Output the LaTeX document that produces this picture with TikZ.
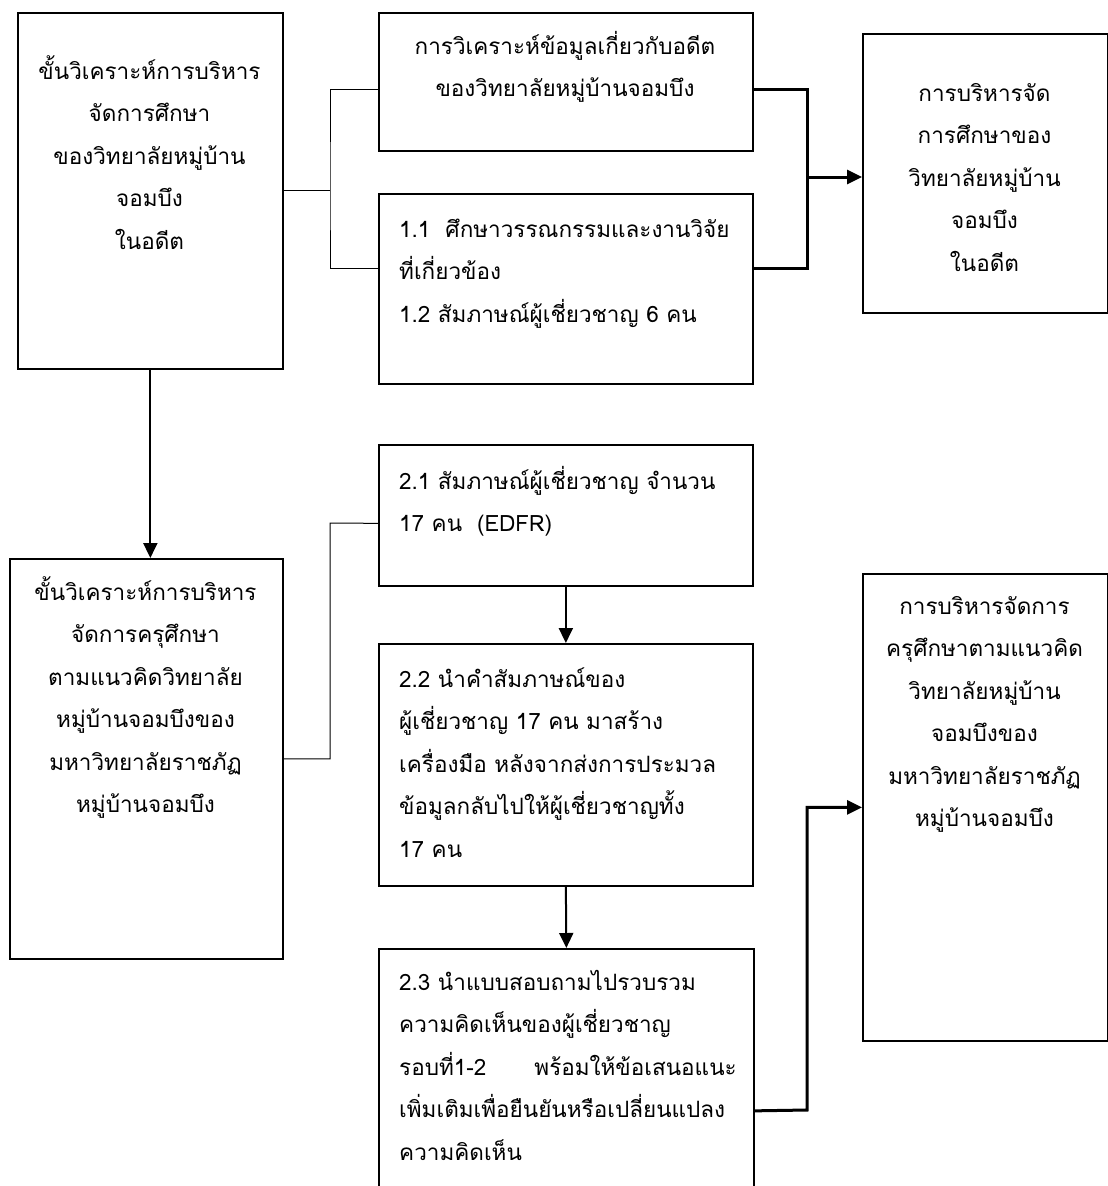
\documentclass[tikz,border=0pt]{standalone}
\usepackage{fontspec}
\newfontfamily\thaifont[Script=Thai]{Loma}
\usetikzlibrary{arrows.meta,positioning,calc}

\begin{document}
\begin{tikzpicture}[x=1pt, y=-1pt, >={Triangle[length=15pt,width=14pt]}, font=\thaifont\fontsize{22.5}{42.5}\selectfont]
	\tikzstyle{stagebox}=[draw=black, line width=1.7pt, rectangle, inner sep=0pt, anchor=north west]
	\tikzstyle{txtc}=[inner sep=0pt, align=center, anchor=base]
	\tikzstyle{txtl}=[inner sep=0pt, align=left, anchor=base west, text width=345pt]
	\tikzstyle{thinlink}=[line width=1pt]
	\tikzstyle{thicklink}=[line width=3pt]
	\tikzstyle{arrowlink}=[->, line width=2pt]

	\clip (0,0) rectangle (1108,1186);
	\fill[white] (0,0) rectangle (1108,1186);

	\node[stagebox, minimum width=265pt, minimum height=356pt] (A) at (17,12) {};
	\node[stagebox, minimum width=374pt, minimum height=138pt] (B) at (378,12) {};
	\node[stagebox, minimum width=374pt, minimum height=190pt] (C) at (378,193) {};
	\node[stagebox, minimum width=245pt, minimum height=279pt] (D) at (862,33) {};
	\node[stagebox, minimum width=273pt, minimum height=400pt] (E) at (9,558) {};
	\node[stagebox, minimum width=374pt, minimum height=141pt] (F) at (378,444) {};
	\node[stagebox, minimum width=374pt, minimum height=242pt] (G) at (378,643) {};
	\node[stagebox, minimum width=375pt, minimum height=324pt] (H) at (378,948) {};
	\node[stagebox, minimum width=245pt, minimum height=467pt] (R) at (862,573) {};

	\node[txtc, text width=265pt] (A-t) at (149.5,79) {ขั้นวิเคราะห์การบริหาร\\จัดการศึกษา\\ของวิทยาลัยหมู่บ้าน\\จอมบึง\\ในอดีต};
	\node[txtc, text width=374pt] (B-t) at (565,54) {การวิเคราะห์ข้อมูลเกี่ยวกับอดีต\\ของวิทยาลัยหมู่บ้านจอมบึง};
	\node[txtl] (C-t) at (399,237) {1.1\ \ ศึกษาวรรณกรรมและงานวิจัย\\ที่เกี่ยวข้อง\\1.2 สัมภาษณ์ผู้เชี่ยวชาญ 6 คน};
	\node[txtc, text width=245pt] (D-t) at (984.5,101) {การบริหารจัด\\การศึกษาของ\\วิทยาลัยหมู่บ้าน\\จอมบึง\\ในอดีต};
	\node[txtc, text width=273pt] (E-t) at (145.5,600) {ขั้นวิเคราะห์การบริหาร\\จัดการครุศึกษา\\ตามแนวคิดวิทยาลัย\\หมู่บ้านจอมบึงของ\\มหาวิทยาลัยราชภัฏ\\หมู่บ้านจอมบึง};
	\node[txtl] (F-t) at (399,489) {2.1 สัมภาษณ์ผู้เชี่ยวชาญ จำนวน\\17 คน\ \ (EDFR)};
	\node[txtl] (G-t) at (399,687) {2.2 นำคำสัมภาษณ์ของ\\ผู้เชี่ยวชาญ 17 คน มาสร้าง\\เครื่องมือ หลังจากส่งการประมวล\\ข้อมูลกลับไปให้ผู้เชี่ยวชาญทั้ง\\17 คน};
	\node[txtl] (H-t) at (399,990) {2.3 นำแบบสอบถามไปรวบรวม\\ความคิดเห็นของผู้เชี่ยวชาญ\\รอบที่1-2\hspace{48pt}พร้อมให้ข้อเสนอแนะ\\เพิ่มเติมเพื่อยืนยันหรือเปลี่ยนแปลง\\ความคิดเห็น};
	\node[txtc, text width=245pt] (R-t) at (984.5,614) {การบริหารจัดการ\\ครุศึกษาตามแนวคิด\\วิทยาลัยหมู่บ้าน\\จอมบึงของ\\มหาวิทยาลัยราชภัฏ\\หมู่บ้านจอมบึง};

	\coordinate (ja) at (330,193);
	\coordinate (jb) at (807,177);
	\coordinate (jc) at (330,523);
	\coordinate (jd) at (807,1110);

	\draw[thinlink] (A.east) -- (A.east -| ja);
	\draw[thinlink] ([yshift=-8pt]B.west) -| (ja) |- ([yshift=20pt]C.west);
	\draw[thicklink] ([yshift=-8pt]B.east) -| (jb) |- ([yshift=20pt]C.east);
	\draw[thicklink, ->] (jb) -- (jb -| D.west);
	\draw[arrowlink] (A.south) -- (A.south |- E.north);
	\draw[thinlink] (E.east) -| (jc) -- ([yshift=-8pt]F.west);
	\draw[arrowlink] (F.south) -- (G.north);
	\draw[arrowlink] (G.south) -- (H.north);
	\draw[thicklink, ->] (H.east) -- (jd) |- (R.west);
\end{tikzpicture}
\end{document}
